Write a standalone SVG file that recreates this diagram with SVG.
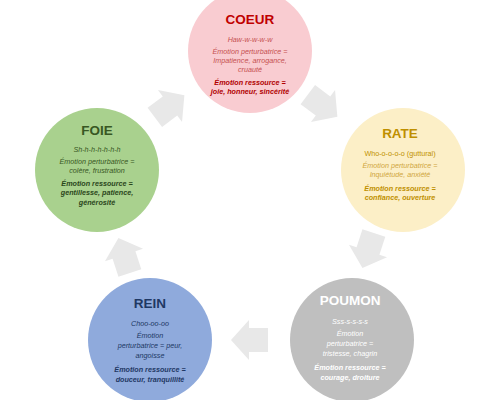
<svg xmlns="http://www.w3.org/2000/svg" width="495" height="400" viewBox="0 0 495 400">
<style>
text{font-family:"Liberation Sans",Arial,sans-serif;text-anchor:middle;font-size:7.2px}
.t{font-size:13.5px;font-weight:bold;font-style:normal}
.i{font-style:italic}
.b{font-style:italic;font-weight:bold}
.arr{fill:#e8e8e8}
</style>
<defs>
<path id="ar" d="M-19,-12 H0 V-20 L18,0 L0,20 V12 H-19 Z"/>
</defs>
<rect width="495" height="400" fill="#fff"/>
<g id="connectors" class="arr">
<use href="#ar" transform="translate(170,106) rotate(-37)"/>
<use href="#ar" transform="translate(323,106) rotate(37)"/>
<use href="#ar" transform="translate(368,251) rotate(108)"/>
<use href="#ar" transform="translate(249,340) rotate(180)"/>
<use href="#ar" transform="translate(124,255) rotate(252)"/>
</g>
<g id="coeur">
<circle cx="250" cy="51" r="62" fill="#f9ccd1"/>
<text x="250" y="24" class="t" fill="#c00000">COEUR</text>
<text x="250" y="42" class="i" fill="#c55050">Haw-w-w-w-w</text>
<text x="250" y="54" class="i" fill="#c55050">Émotion perturbatrice =</text>
<text x="250" y="63" class="i" fill="#c55050">Impatience, arrogance,</text>
<text x="250" y="72" class="i" fill="#c55050">cruauté</text>
<text x="250" y="85" class="b" fill="#b00000">Émotion ressource =</text>
<text x="250" y="94" class="b" fill="#b00000">joie, honneur, sincérité</text>
</g>
<g id="rate">
<circle cx="403" cy="170" r="62" fill="#fcefc7"/>
<text x="400" y="138" class="t" fill="#bf8f00">RATE</text>
<text x="400" y="156" fill="#bf9000">Who-o-o-o-o (guttural)</text>
<text x="400" y="168" class="i" fill="#d0a640">Émotion perturbatrice =</text>
<text x="400" y="177" class="i" fill="#d0a640">Inquiétude, anxiété</text>
<text x="400" y="191" class="b" fill="#bf9000">Émotion ressource =</text>
<text x="400" y="200" class="b" fill="#bf9000">confiance, ouverture</text>
</g>
<g id="poumon">
<circle cx="352" cy="340" r="62" fill="#bfbfbf"/>
<text x="350" y="305" class="t" fill="#fff">POUMON</text>
<text x="350" y="324" class="i" fill="#fff">Sss-s-s-s-s</text>
<text x="350" y="336" class="i" fill="#fff">Émotion</text>
<text x="350" y="346" class="i" fill="#fff">perturbatrice =</text>
<text x="350" y="356" class="i" fill="#fff">tristesse, chagrin</text>
<text x="350" y="370" class="b" fill="#fff">Émotion ressource =</text>
<text x="350" y="380" class="b" fill="#fff">courage, droiture</text>
</g>
<g id="rein">
<circle cx="150" cy="340" r="62" fill="#8faadc"/>
<text x="150" y="308" class="t" fill="#1f3864">REIN</text>
<text x="150" y="326" class="i" fill="#203864">Choo-oo-oo</text>
<text x="150" y="338" class="i" fill="#203864">Émotion</text>
<text x="150" y="348" class="i" fill="#203864">perturbatrice = peur,</text>
<text x="150" y="358" class="i" fill="#203864">angoisse</text>
<text x="150" y="372" class="b" fill="#1f3864">Émotion ressource =</text>
<text x="150" y="382" class="b" fill="#1f3864">douceur, tranquillité</text>
</g>
<g id="foie">
<circle cx="97" cy="170" r="62" fill="#a9d18e"/>
<text x="97" y="135" class="t" fill="#385723">FOIE</text>
<text x="97" y="152" class="i" fill="#385723">Sh-h-h-h-h-h-h</text>
<text x="97" y="164" class="i" fill="#385723">Émotion perturbatrice =</text>
<text x="97" y="173" class="i" fill="#385723">colère, frustration</text>
<text x="97" y="186" class="b" fill="#2b461b">Émotion ressource =</text>
<text x="97" y="195" class="b" fill="#2b461b">gentillesse, patience,</text>
<text x="97" y="205" class="b" fill="#2b461b">générosité</text>
</g>
</svg>
